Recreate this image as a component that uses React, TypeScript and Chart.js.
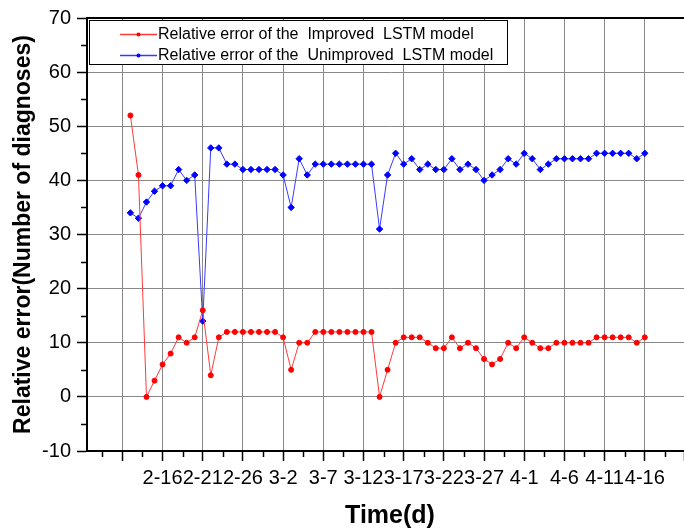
import React, { useEffect, useRef } from 'react';
import { Chart, registerables } from 'chart.js';

Chart.register(...registerables);

const FONT = "'Liberation Sans', Arial, sans-serif";

// Daily dates (2020), one point per day
const dates = [
  '2-12', '2-13', '2-14', '2-15', '2-16', '2-17', '2-18', '2-19', '2-20', '2-21',
  '2-22', '2-23', '2-24', '2-25', '2-26', '2-27', '2-28', '2-29', '3-1', '3-2',
  '3-3', '3-4', '3-5', '3-6', '3-7', '3-8', '3-9', '3-10', '3-11', '3-12',
  '3-13', '3-14', '3-15', '3-16', '3-17', '3-18', '3-19', '3-20', '3-21', '3-22',
  '3-23', '3-24', '3-25', '3-26', '3-27', '3-28', '3-29', '3-30', '3-31', '4-1',
  '4-2', '4-3', '4-4', '4-5', '4-6', '4-7', '4-8', '4-9', '4-10', '4-11',
  '4-12', '4-13', '4-14', '4-15', '4-16',
];

const improvedError = [
  52, 41, 0, 3, 6, 8, 11, 10, 11, 16,
  4, 11, 12, 12, 12, 12, 12, 12, 12, 11,
  5, 10, 10, 12, 12, 12, 12, 12, 12, 12,
  12, 0, 5, 10, 11, 11, 11, 10, 9, 9,
  11, 9, 10, 9, 7, 6, 7, 10, 9, 11,
  10, 9, 9, 10, 10, 10, 10, 10, 11, 11,
  11, 11, 11, 10, 11,
];

const unimprovedError = [
  34, 33, 36, 38, 39, 39, 42, 40, 41, 14,
  46, 46, 43, 43, 42, 42, 42, 42, 42, 41,
  35, 44, 41, 43, 43, 43, 43, 43, 43, 43,
  43, 31, 41, 45, 43, 44, 42, 43, 42, 42,
  44, 42, 43, 42, 40, 41, 42, 44, 43, 45,
  44, 42, 43, 44, 44, 44, 44, 44, 45, 45,
  45, 45, 45, 44, 45,
];

// labels of major x ticks (every 5 days after 2-11)
const xTickLabels = ['2-16', '2-21', '2-26', '3-2', '3-7', '3-12', '3-17', '3-22', '3-27', '4-1', '4-6', '4-11', '4-16'];

const seriesLabels = [
  'Relative error of the  Improved  LSTM model',
  'Relative error of the  Unimproved  LSTM model',
];
const xTitle = 'Time(d)';
const yTitle = 'Relative error(Number of diagnoses)';

// day offset from 2-11 for each date
const dayOffsets = dates.map((_, i) => i + 1);

const GRID = '#888888';

const framePlugin = {
  id: 'frameAndMinorTicks',
  afterDraw(chart: any) {
    const { ctx, chartArea } = chart;
    const { left, right, top, bottom } = chartArea;
    const xs = chart.scales.x;
    const ys = chart.scales.y;
    ctx.save();
    ctx.strokeStyle = '#000';
    ctx.lineWidth = 1.5;
    ctx.beginPath();
    for (let v = -5; v < 70; v += 10) {
      const py = Math.round(ys.getPixelForValue(v)) + 0.5;
      ctx.moveTo(left - 6, py);
      ctx.lineTo(left, py);
    }
    for (let v = -2.5; v < xs.max; v += 5) {
      if (v < xs.min) continue;
      const px = Math.round(xs.getPixelForValue(v)) + 0.5;
      ctx.moveTo(px, bottom);
      ctx.lineTo(px, bottom + 6);
    }
    ctx.stroke();
    ctx.lineWidth = 2;
    ctx.beginPath();
    ctx.moveTo(left - 1, top);
    ctx.lineTo(right, top);
    ctx.stroke();
    ctx.restore();
  },
};

const legendPlugin = {
  id: 'boxLegend',
  afterDatasetsDraw(chart: any) {
    const { ctx, chartArea } = chart;
    const bx = chartArea.left + 2;
    const by = chartArea.top + 2;
    const bw = 418;
    const bh = 44;
    ctx.save();
    ctx.fillStyle = '#fff';
    ctx.fillRect(bx, by, bw, bh);
    ctx.strokeStyle = '#000';
    ctx.lineWidth = 1;
    ctx.strokeRect(bx + 0.5, by + 0.5, bw, bh);
    chart.data.datasets.forEach((ds: any, i: number) => {
      const cy = by + 14.5 + i * 21;
      ctx.strokeStyle = ds.borderColor;
      ctx.lineWidth = 1.5;
      ctx.beginPath();
      ctx.moveTo(bx + 31, cy);
      ctx.lineTo(bx + 68, cy);
      ctx.stroke();
      ctx.fillStyle = ds.pointBackgroundColor;
      ctx.beginPath();
      ctx.arc(bx + 49.5, cy, 2, 0, Math.PI * 2);
      ctx.fill();
      ctx.fillStyle = '#000';
      ctx.font = `16px ${FONT}`;
      ctx.textBaseline = 'middle';
      ctx.textAlign = 'left';
      ctx.fillText(ds.label, bx + 69, cy + 0.5);
    });
    ctx.restore();
  },
};

export default function App() {
  const ref = useRef<HTMLCanvasElement>(null);

  useEffect(() => {
    const canvas = ref.current;
    if (!canvas) return;
    const chart = new Chart(canvas, {
      type: 'line',
      data: {
        datasets: [
          {
            label: seriesLabels[0],
            data: dayOffsets.map((d, i) => ({ x: d, y: improvedError[i] })),
            borderColor: '#ff3a3a',
            borderWidth: 1,
            pointStyle: 'circle',
            pointRadius: 2.5,
            pointBackgroundColor: '#ff0000',
            pointBorderColor: '#ff0000',
            pointBorderWidth: 1,
            tension: 0,
            fill: false,
          },
          {
            label: seriesLabels[1],
            data: dayOffsets.map((d, i) => ({ x: d, y: unimprovedError[i] })),
            borderColor: '#3a3aff',
            borderWidth: 1,
            pointStyle: 'rectRot',
            pointRadius: 3.2,
            pointBackgroundColor: '#0000ff',
            pointBorderColor: '#0000ff',
            pointBorderWidth: 1,
            tension: 0,
            fill: false,
          },
        ],
      },
      options: {
        responsive: false,
        animation: false,
        devicePixelRatio: 1,
        events: [],
        layout: { padding: { top: 17, left: 0, right: 0, bottom: 0 } },
        plugins: {
          legend: { display: false },
          tooltip: { enabled: false },
        },
        scales: {
          x: {
            type: 'linear',
            min: -4.4,
            max: 71,
            afterFit: (scale: any) => {
              scale.height = 80;
            },
            ticks: {
              stepSize: 5,
              includeBounds: false,
              autoSkip: false,
              maxRotation: 0,
              minRotation: 0,
              padding: 5,
              color: '#000',
              font: { family: FONT, size: 20 },
              callback: (v: any) => {
                const k = Math.round(v / 5) - 1;
                if (Math.abs(v - 5 * (k + 1)) < 1e-6 && k >= 0 && k < xTickLabels.length) return xTickLabels[k];
                return '';
              },
            },
            grid: {
              display: true,
              drawOnChartArea: true,
              color: GRID,
              lineWidth: 1,
              tickLength: 10,
              tickWidth: 1.5,
              tickColor: '#000',
            },
            border: { display: true, color: '#000', width: 2 },
            title: {
              display: true,
              text: xTitle,
              color: '#000',
              font: { family: FONT, size: 25, weight: 'bold' },
              padding: { top: 0, bottom: 0 },
            },
          },
          y: {
            type: 'linear',
            min: -10,
            max: 70,
            afterFit: (scale: any) => {
              scale.width = 87;
            },
            ticks: {
              stepSize: 10,
              padding: 6,
              color: '#000',
              font: { family: FONT, size: 20 },
            },
            grid: {
              display: true,
              drawOnChartArea: true,
              color: GRID,
              lineWidth: 1,
              tickLength: 10,
              tickWidth: 1.5,
              tickColor: '#000',
            },
            border: { display: true, color: '#000', width: 2 },
            title: {
              display: true,
              text: yTitle,
              color: '#000',
              font: { family: FONT, size: 23, weight: 'bold' },
              padding: { top: 10, bottom: 0 },
            },
          },
        },
      } as any,
      plugins: [legendPlugin, framePlugin],
    });
    return () => chart.destroy();
  }, []);

  return (
    <div
      style={{
        position: 'fixed',
        left: 0,
        top: 0,
        width: 684,
        height: 531,
        overflow: 'hidden',
        background: '#fff',
      }}
    >
      <canvas ref={ref} width={698} height={531} style={{ display: 'block' }} />
    </div>
  );
}
